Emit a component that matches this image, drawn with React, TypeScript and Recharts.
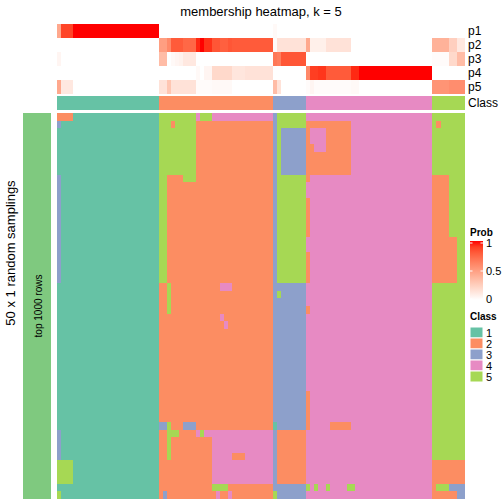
import { BarChart, Bar, Cell, XAxis, YAxis } from 'recharts';

// run-length strings: "value*count", a bare value means count 1
const N_COLS = 100;
const COLUMN_CLASS = '1*25 2*28 3*8 4*31 5*8';

const P1 = '0.45 0.88*3 1*21 0*28 0.03 0*46';
const P2 = '0*25 0.5*2 0.6 0.8*3 0.75*3 0.95 1 0.93*2 0.82*2 0.78*2 0.82 0.8*10 0.02 0.15*7 0.45 0.08*4 0.15*6 0*20 0.4*4 0.25*2 0.12*2';
const P3 = '0.05 0*24 0.35*2 0 0.03 0.05 0.07 0.12*3 0*19 0.68 0.65 0.82*6 0*31 0.02*4 0.2*2 0.35*2';
const P4 = '0*25 0*9 0.03 0 0.05*2 0.2*5 0.13*3 0.15*7 0*8 0.6 0.9*2 0.92*2 0.8*6 0.95*2 1*18 0*8';
const P5 = '0.45 0.12*3 0*21 0.15*2 0.3 0.15*6 0.02*4 0.03*5 0*10 0.35 0.15 0*6 0.02 0.05 0.02*9 0.03*2 0*18 0.55*4 0.58*4';

const PROB_LABELS = ['p1', 'p2', 'p3', 'p4', 'p5'];
const PROB_ROWS = [P1, P2, P3, P4, P5];

// one string per random sampling (top to bottom), class of each column
const SAMPLINGS = [
  '2*4 1*21 5*9 4 5*3 4*15 3 5*7 4*31 5*8',
  '3 1*24 5*3 2 5*5 2*19 3 5*7 2*11 4*20 5 2 5*6',
  '1*25 5*9 2*19 3 5 3*6 2 4*4 2*6 4*20 5*8',
  '1*25 5*9 2*19 3 5 3*6 2 4*4 2*6 4*20 5*8',
  '1*25 5*9 2*19 3 5 3*6 2*2 4*3 2*6 4*20 5*8',
  '1*25 5*9 2*19 3 5 3*6 2*11 4*20 5*8',
  '1*25 5*9 2*19 3 5 3*6 2*11 4*20 5*8',
  '1*25 5*9 2*19 3 5 3*6 2*11 4*20 5*8',
  '3 1*24 5*2 2*4 5*3 2*19 3 5*7 2 4*30 2*4 5*4',
  '3 1*24 5*2 2*26 3 5*7 4*31 2*4 5*4',
  '3 1*24 5*2 2*26 3 5*7 4*31 2*4 5*4',
  '3 1*24 5*2 2*26 3 5*7 2 4*30 2*4 5*4',
  '3 1*24 5*2 2*26 3 5*7 2 4*30 2*4 5*4',
  '3 1*24 5*2 2*26 3 5*7 2 4*30 2*4 5*4',
  '3 1*24 5*2 2*26 3 5*7 2 4*30 2*4 5*4',
  '3 1*24 5*2 2*26 3 5*7 2 4*30 2*4 5*4',
  '3 1*24 5*2 2*26 3 5*7 4*31 2*6 5*2',
  '3 1*24 5*2 2*26 3 5*7 4*31 2*6 5*2',
  '3 1*24 5*2 2*26 3 5*7 2 4*30 2*6 5*2',
  '3 1*24 5*2 2*26 3 5*7 2 4*30 2*6 5*2',
  '3 1*24 5*2 2*26 3 5*7 2 4*30 2*6 5*2',
  '3 1*24 5*2 2*26 3 5*7 2 4*30 2*6 5*2',
  '1*25 2*2 5 2*12 4*3 2*10 3*8 4*31 5*8',
  '1*25 2*2 5 2*25 3 5 3*6 4*31 5*8',
  '1*25 2*2 5 2*25 3*8 4*31 5*8',
  '1*25 2*2 5 2*25 3*8 2 4*30 5*8',
  '1*25 2*15 4 2*12 3*8 4*31 5*8',
  '1*25 2*16 4 2*11 3*8 4*31 5*8',
  '1*25 2*28 3*8 4*31 5*8',
  '1*25 2*28 3*8 4*31 5*8',
  '1*25 2*28 3*8 4*31 5*8',
  '1*25 2*28 3*8 4*31 5*8',
  '1*25 2*28 3*8 4*31 5*8',
  '1*25 2*28 3*8 4*31 5*8',
  '1*25 2*28 3*8 4*31 5*8',
  '1*25 2*28 3*8 4*31 5*8',
  '1*25 2*28 3*8 2 4*30 5*8',
  '1*25 2*28 3*8 2 4*30 5*8',
  '1*25 2*28 3*8 2 4*30 5*8',
  '1*25 2*28 3*8 2 4*30 5*8',
  '1*25 3*2 5 2*3 3*3 2*19 1 3*7 2 4*5 2*5 4*20 5*8',
  '3 1*24 2*2 5*3 2*4 4 5 4*17 3 2*7 4*31 5*8',
  '3 1*24 2*2 5 2*10 4*15 3 2*7 4*31 5*8',
  '3 1*24 2*2 5 2*10 4*15 3 2*7 4*31 5*8',
  '3 1*24 2*2 5 2*10 4*5 2*3 4*7 3 2*7 4*31 5*8',
  '5*4 1*21 2*13 4*15 3 2*7 4*31 2*8',
  '5*4 1*21 2*13 4*15 3 2*7 4*31 2*8',
  '5*4 1*21 2*13 4*15 3 2*7 4*31 2*8',
  '1*25 2*13 5*4 2*11 3*8 5 4 5 4*2 5 4*4 5*2 4*19 2 5*3 3*4',
  '5 1*24 2 3 2*12 4 2*2 4 2*10 5 3*7 4*31 2*6 3*2',
];

const CLASS_KEYS = ['1', '2', '3', '4', '5'];
const CLASS_COLORS: Record<string, string> = {
  '1': '#66C2A5',
  '2': '#FC8D62',
  '3': '#8DA0CB',
  '4': '#E78AC3',
  '5': '#A6D854',
};
const PROB_TICKS = [1, 0.5, 0];

const FONT = '"Liberation Sans", Arial, Helvetica, sans-serif';

const expand = (runs: string): string[] =>
  runs.trim().split(/\s+/).flatMap((tok) => {
    const [v, n] = tok.split('*');
    return Array(n ? Number(n) : 1).fill(v);
  });

// white -> red ramp interpolated in LAB, like colorRamp2
const toLin = (c: number) => (c <= 0.04045 ? c / 12.92 : Math.pow((c + 0.055) / 1.055, 2.4));
const toSrgb = (c: number) => (c <= 0.0031308 ? 12.92 * c : 1.055 * Math.pow(c, 1 / 2.4) - 0.055);
function rgbToLab(r: number, g: number, b: number) {
  const R = toLin(r / 255), G = toLin(g / 255), B = toLin(b / 255);
  const X = (0.4124 * R + 0.3576 * G + 0.1805 * B) / 0.95047;
  const Y = 0.2126 * R + 0.7152 * G + 0.0722 * B;
  const Z = (0.0193 * R + 0.1192 * G + 0.9505 * B) / 1.08883;
  const f = (t: number) => (t > 0.008856 ? Math.cbrt(t) : 7.787 * t + 16 / 116);
  return [116 * f(Y) - 16, 500 * (f(X) - f(Y)), 200 * (f(Y) - f(Z))];
}
function labToHex(L: number, a: number, b: number) {
  const fy = (L + 16) / 116, fx = fy + a / 500, fz = fy - b / 200;
  const inv = (t: number) => (t > 0.206893 ? t * t * t : (t - 16 / 116) / 7.787);
  const X = inv(fx) * 0.95047, Y = inv(fy), Z = inv(fz) * 1.08883;
  const R = 3.2406 * X - 1.5372 * Y - 0.4986 * Z;
  const G = -0.9689 * X + 1.8758 * Y + 0.0415 * Z;
  const B = 0.0557 * X - 0.204 * Y + 1.057 * Z;
  const h = (c: number) => {
    const v = Math.round(Math.min(1, Math.max(0, toSrgb(c))) * 255);
    return v.toString(16).padStart(2, '0');
  };
  return `#${h(R)}${h(G)}${h(B)}`;
}
const LAB_WHITE = rgbToLab(255, 255, 255);
const LAB_RED = rgbToLab(255, 0, 0);
const probColor = (p: number) =>
  labToHex(
    LAB_WHITE[0] + (LAB_RED[0] - LAB_WHITE[0]) * p,
    LAB_WHITE[1] + (LAB_RED[1] - LAB_WHITE[1]) * p,
    LAB_WHITE[2] + (LAB_RED[2] - LAB_WHITE[2]) * p,
  );

const columnClass = expand(COLUMN_CLASS);
const probs = PROB_ROWS.map((r) => expand(r).map(Number));
const grid = SAMPLINGS.map(expand);

const columns = columnClass.map((_, c) => c);
const probData = columns.map((c) => {
  const d: Record<string, number> = { col: c };
  PROB_LABELS.forEach((k) => (d[k] = 1));
  return d;
});
const classData = columns.map((c) => ({ col: c, unit: 1 }));
const bodyData = columns.map((c) => {
  const d: Record<string, number> = { col: c };
  grid.forEach((_, r) => (d[`r${r}`] = 1));
  return d;
});

const NO_MARGIN = { top: 0, right: 0, bottom: 0, left: 0 };
const HM_LEFT = 57;
const HM_WIDTH = 408;
const CELL_W = HM_WIDTH / N_COLS;

// recharts floors the bar width, so widen each tile a little to close the seams
const Tile = (props: any) => {
  const { x, y, width, height, fill } = props;
  if (width == null || height == null) return null;
  return (
    <rect
      x={Math.min(x, x + width)}
      y={Math.min(y, y + height)}
      width={Math.abs(width) + 0.5}
      height={Math.abs(height)}
      fill={fill}
    />
  );
};

export default function App() {
  return (
    <div style={{ position: 'absolute', left: 0, top: 0, width: 504, height: 504, background: '#fff', fontFamily: FONT }}>
      <style>{'.hm rect { shape-rendering: crispEdges; }'}</style>

      {/* top annotation: membership probabilities */}
      <div className="hm" style={{ position: 'absolute', left: HM_LEFT, top: 24 }}>
        <BarChart width={HM_WIDTH} height={70} data={probData} margin={NO_MARGIN} barCategoryGap={0} barGap={0} barSize={CELL_W}>
          <XAxis dataKey="col" hide />
          <YAxis type="number" hide domain={[0, PROB_LABELS.length]} reversed />
          {PROB_LABELS.map((k, i) => (
            <Bar key={k} dataKey={k} stackId="p" isAnimationActive={false} shape={Tile}>
              {probs[i].map((p, c) => (
                <Cell key={c} fill={probColor(p)} />
              ))}
            </Bar>
          ))}
        </BarChart>
      </div>

      {/* top annotation: class */}
      <div className="hm" style={{ position: 'absolute', left: HM_LEFT, top: 96 }}>
        <BarChart width={HM_WIDTH} height={14} data={classData} margin={NO_MARGIN} barCategoryGap={0} barGap={0} barSize={CELL_W}>
          <XAxis dataKey="col" hide />
          <YAxis type="number" hide domain={[0, 1]} />
          <Bar dataKey="unit" isAnimationActive={false} shape={Tile}>
            {columnClass.map((cls, c) => (
              <Cell key={c} fill={CLASS_COLORS[cls]} />
            ))}
          </Bar>
        </BarChart>
      </div>

      {/* body: class of each column in each random sampling */}
      <div className="hm" style={{ position: 'absolute', left: HM_LEFT, top: 113 }}>
        <BarChart width={HM_WIDTH} height={386} data={bodyData} margin={NO_MARGIN} barCategoryGap={0} barGap={0} barSize={CELL_W}>
          <XAxis dataKey="col" hide />
          <YAxis type="number" hide domain={[0, grid.length]} reversed />
          {grid.map((row, r) => (
            <Bar key={r} dataKey={`r${r}`} stackId="s" isAnimationActive={false} shape={Tile}>
              {row.map((cls, c) => (
                <Cell key={c} fill={CLASS_COLORS[cls]} />
              ))}
            </Bar>
          ))}
        </BarChart>
      </div>

      {/* left row annotation */}
      <div style={{ position: 'absolute', left: 23, top: 113, width: 28, height: 386, background: '#7FC97F' }} />

      <svg width={504} height={504} style={{ position: 'absolute', left: 0, top: 0, pointerEvents: 'none' }} fontFamily={FONT}>
        <defs>
          <linearGradient id="probGrad" x1="0" y1="0" x2="0" y2="1">
            {[10, 9, 8, 7, 6, 5, 4, 3, 2, 1, 0].map((k) => (
              <stop key={k} offset={`${(10 - k) * 10}%`} stopColor={probColor(k / 10)} />
            ))}
          </linearGradient>
        </defs>

        <text x={261} y={11} fontSize={13} textAnchor="middle" dominantBaseline="central">
          membership heatmap, k = 5
        </text>

        {PROB_LABELS.map((k, i) => (
          <text key={k} x={468} y={31 + i * 14} fontSize={12} dominantBaseline="central">
            {k}
          </text>
        ))}
        <text x={468} y={103} fontSize={12} dominantBaseline="central">
          Class
        </text>

        <text transform="translate(10,253) rotate(-90)" fontSize={13} textAnchor="middle" dominantBaseline="central">
          50 x 1 random samplings
        </text>
        <text transform="translate(38,306) rotate(-90)" fontSize={10} textAnchor="middle" dominantBaseline="central">
          top 1000 rows
        </text>

        {/* probability legend */}
        <text x={470} y={232} fontSize={10} fontWeight="bold" dominantBaseline="central">
          Prob
        </text>
        <rect x={470} y={241} width={13} height={59} fill="url(#probGrad)" />
        {PROB_TICKS.map((t) => {
          const y = 299 - t * 56;
          return (
            <g key={t}>
              <line x1={470} x2={472.5} y1={y} y2={y} stroke="#fff" strokeWidth={1} />
              <line x1={480.5} x2={483} y1={y} y2={y} stroke="#fff" strokeWidth={1} />
              <text x={486} y={y} fontSize={11} dominantBaseline="central">
                {t}
              </text>
            </g>
          );
        })}

        {/* class legend */}
        <text x={470} y={316} fontSize={10} fontWeight="bold" dominantBaseline="central">
          Class
        </text>
        {CLASS_KEYS.map((k, i) => (
          <g key={k}>
            <rect x={470} y={327 + i * 11} width={13} height={11} fill={CLASS_COLORS[k]} stroke="#fff" strokeWidth={1} />
            <text x={486} y={332.5 + i * 11} fontSize={11} dominantBaseline="central">
              {k}
            </text>
          </g>
        ))}
      </svg>
    </div>
  );
}
